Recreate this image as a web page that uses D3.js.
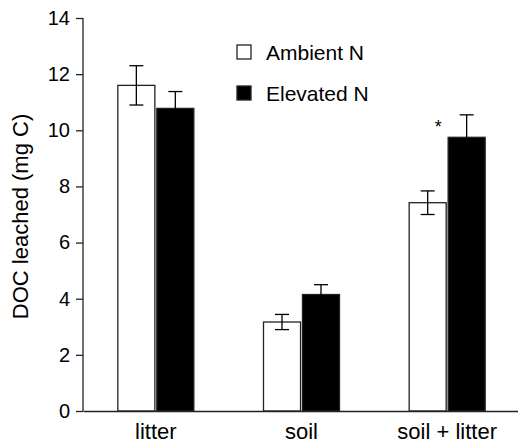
<!DOCTYPE html>
<html>
<head>
<meta charset="utf-8">
<script src="https://cdn.jsdelivr.net/npm/d3@7"></script>
<style>
  body { margin: 0; background: #fff; }
  text { font-family: "Liberation Sans", Arial, sans-serif; fill: #000; }
</style>
</head>
<body>
<svg id="chart" width="518" height="445"></svg>
<script>
// data
var categories = ["litter", "soil", "soil + litter"]
var groups = ["Ambient N", "Elevated N"]
var ambientMean = [11.6, 3.17, 7.42]
var ambientErr = [0.7, 0.27, 0.42]
var elevatedMean = [10.78, 4.15, 9.75]
var elevatedErr = [0.6, 0.35, 0.8]
var yTicks = [0, 2, 4, 6, 8, 10, 12, 14]
var signif = ["", "", "*"]

var svg = d3.select("#chart")

var margin = {left: 83, top: 18, bottom: 34}
var height = 445 - margin.top - margin.bottom

var dataReady = categories.map(function(c, i) {
  return {
    name: c,
    values: [
      {group: groups[0], mean: ambientMean[i], err: ambientErr[i]},
      {group: groups[1], mean: elevatedMean[i], err: elevatedErr[i]}
    ],
    mark: signif[i]
  }
})

var xScale = d3.scaleBand()
    .domain(categories)
    .range([margin.left, 520])

var xSub = d3.scaleBand()
    .domain(groups)
    .range([-38, 38])
    .paddingInner(0.05)

var yScale = d3.scaleLinear()
    .domain([0, 14])
    .range([margin.top + height, margin.top])

var fill = d3.scaleOrdinal().domain(groups).range(["#fff", "#000"])

// bars
var g = svg.selectAll("g.cat")
  .data(dataReady)
  .enter()
  .append("g")
    .attr("class", "cat")
    .attr("transform", function(d) { return "translate(" + (xScale(d.name) + xScale.bandwidth() / 2) + ",0)" })

g.selectAll("rect")
  .data(function(d) { return d.values })
  .enter()
  .append("rect")
    .attr("x", function(d) { return xSub(d.group) })
    .attr("width", xSub.bandwidth())
    .attr("y", function(d) { return yScale(d.mean) })
    .attr("height", function(d) { return yScale(0) - yScale(d.mean) })
    .style("fill", function(d) { return fill(d.group) })
    .style("stroke", "#222")
    .style("stroke-width", 1.3)

// error bars
var cap = 7
var eb = g.selectAll("g.err")
  .data(function(d) { return d.values })
  .enter()
  .append("g")
    .attr("class", "err")
    .attr("transform", function(d) { return "translate(" + (xSub(d.group) + xSub.bandwidth() / 2) + ",0)" })
    .style("stroke", "#000")
    .style("stroke-width", 1.3)

eb.append("line")
  .attr("x1", 0).attr("x2", 0)
  .attr("y1", function(d) { return yScale(d.mean - d.err) })
  .attr("y2", function(d) { return yScale(d.mean + d.err) })
eb.append("line")
  .attr("x1", -cap).attr("x2", cap)
  .attr("y1", function(d) { return yScale(d.mean + d.err) })
  .attr("y2", function(d) { return yScale(d.mean + d.err) })
eb.append("line")
  .attr("x1", -cap).attr("x2", cap)
  .attr("y1", function(d) { return yScale(d.mean - d.err) })
  .attr("y2", function(d) { return yScale(d.mean - d.err) })

// significance mark
g.append("text")
  .attr("x", -9)
  .attr("y", function(d) { return yScale(d.values[1].mean + d.values[1].err) + 18 })
  .attr("text-anchor", "middle")
  .style("font-size", "18px")
  .text(function(d) { return d.mark })

// axes
var yAxis = d3.axisLeft(yScale).tickValues(yTicks).tickSize(7).tickPadding(6)
var ya = svg.append("g")
  .attr("transform", "translate(" + margin.left + ",0)")
  .call(yAxis)
ya.select(".domain").attr("d", "M0," + yScale(14) + "V" + yScale(0))

var xAxis = d3.axisBottom(xScale).tickSize(0).tickPadding(12)
var xa = svg.append("g")
  .attr("transform", "translate(0," + yScale(0) + ")")
  .call(xAxis)

svg.selectAll(".domain, .tick line").style("stroke", "#222").style("stroke-width", 1.3)
ya.selectAll(".tick text").style("font-size", "20px").style("font-family", "Liberation Sans, Arial, sans-serif")
xa.selectAll(".tick text").style("font-size", "22px").style("font-family", "Liberation Sans, Arial, sans-serif")

// y label
svg.append("text")
  .attr("transform", "translate(28," + (yScale(7) + 2) + ") rotate(-90)")
  .attr("text-anchor", "middle")
  .style("font-size", "22px")
  .text("DOC leached (mg C)")

// legend
var legend = svg.selectAll("g.legend")
  .data(groups)
  .enter()
  .append("g")
    .attr("class", "legend")
    .attr("transform", function(d, i) { return "translate(237," + (45 + i * 41) + ")" })

legend.append("rect")
  .attr("width", 14).attr("height", 14)
  .style("fill", function(d) { return fill(d) })
  .style("stroke", "#222")
  .style("stroke-width", 1.3)
legend.append("text")
  .attr("x", 29).attr("y", 15)
  .style("font-size", "21px")
  .text(function(d) { return d })
</script>
</body>
</html>
